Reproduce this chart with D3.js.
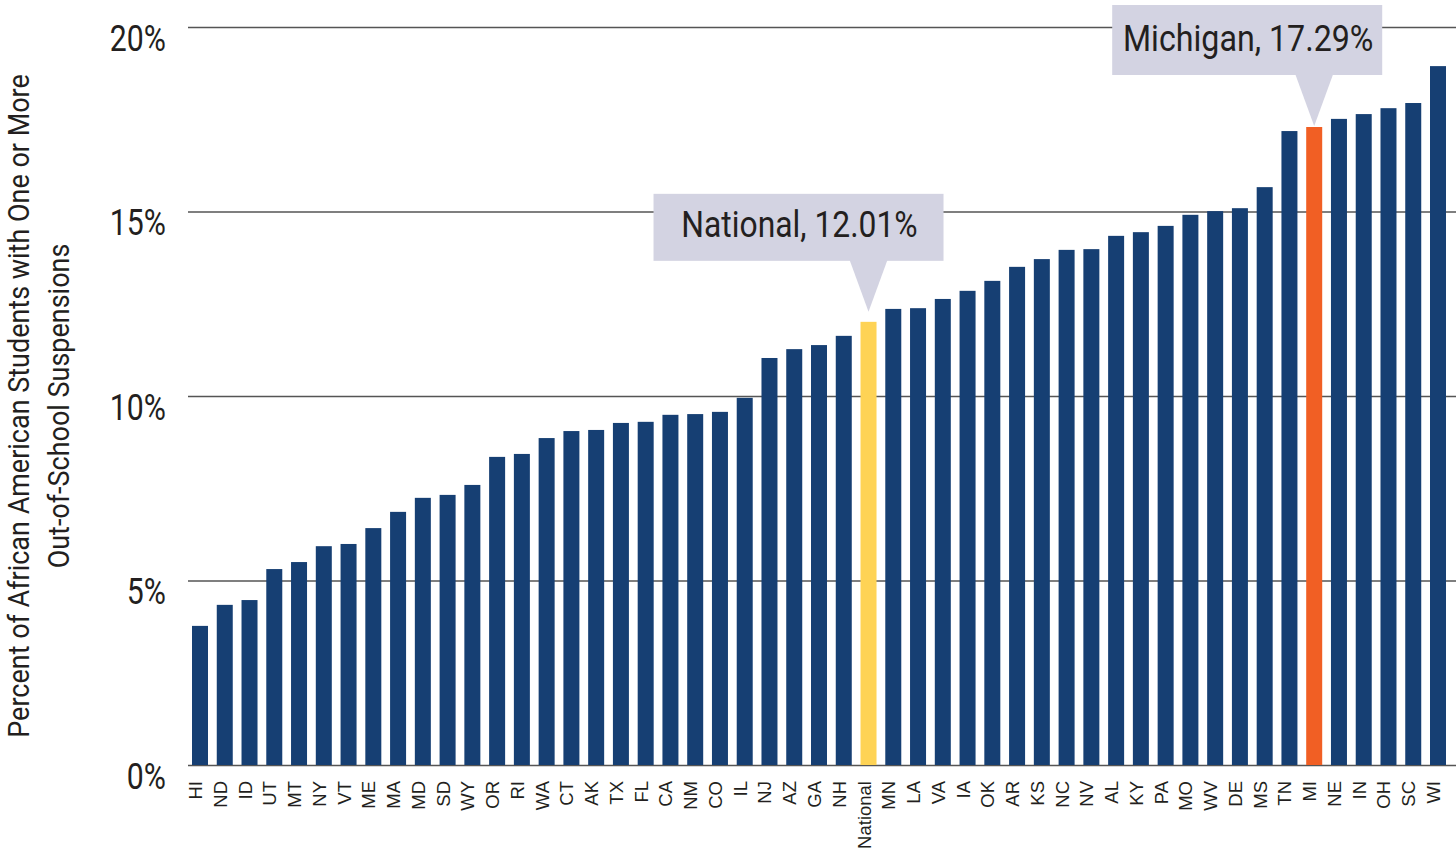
<!DOCTYPE html>
<html>
<head>
<meta charset="utf-8">
<script src="https://cdn.jsdelivr.net/npm/d3@7"></script>
<style>
  body { margin: 0; background: #fff; }
  svg { display: block; }
  .tick-label { font-family: Roboto, "Liberation Sans", sans-serif; fill: #231f20; }
  .cat-label { font-family: "Liberation Sans", Arial, sans-serif; fill: #231f20; }
</style>
</head>
<body>
<svg id="chart" width="1456" height="852"></svg>
<script>

// states sorted by rate, national average in the middle
var states = ['HI','ND','ID','UT','MT','NY','VT','ME','MA','MD','SD','WY','OR','RI','WA','CT','AK','TX','FL','CA','NM','CO','IL','NJ','AZ','GA','NH','National','MN','LA','VA','IA','OK','AR','KS','NC','NV','AL','KY','PA','MO','WV','DE','MS','TN','MI','NE','IN','OH','SC','WI'];
var rates = [3.77,4.34,4.47,5.31,5.50,5.93,5.99,6.42,6.86,7.24,7.32,7.59,8.35,8.43,8.86,9.05,9.08,9.27,9.30,9.49,9.51,9.57,9.95,11.03,11.27,11.38,11.63,12.01,12.36,12.38,12.63,12.85,13.12,13.50,13.71,13.96,13.98,14.34,14.44,14.61,14.91,15.01,15.09,15.66,17.18,17.29,17.51,17.64,17.80,17.94,18.94];
var yTicks = [0, 5, 10, 15, 20];
var callouts = ['National', 'MI'];
var calloutText = ['National, 12.01%', 'Michigan, 17.29%'];

var data = states.map(function(s, i) { return { state: s, rate: rates[i] }; });

var barColor = '#163f73';
var hiColor = { 'National': '#fed355', 'MI': '#f15f24' };

var svg = d3.select('#chart');

// condensed look: squeeze rendered text a bit
function condense(sel, k) {
  sel.each(function() {
    var w = this.getComputedTextLength();
    d3.select(this).attr('textLength', w * k).attr('lengthAdjust', 'spacingAndGlyphs');
  });
}

///////////////////////
// Scales
var x = d3.scaleBand()
    .domain(states)
    .range([192, 1446])
    .paddingInner(0.354)
    .paddingOuter(0);

var y = d3.scaleLinear()
    .domain([0, 20])
    .range([765, 27]);

///////////////////////
// Gridlines + y labels
var yAxis = d3.axisLeft(y)
    .tickValues(yTicks)
    .tickSize(-(1456 - 188))
    .tickFormat(function(d) { return d + '%'; });

var yg = svg.append('g')
    .attr('transform', 'translate(188,0)')
    .call(yAxis);

yg.select('.domain').remove();
yg.selectAll('.tick line')
    .attr('stroke', '#555')
    .attr('stroke-width', 1.3);
yg.selectAll('.tick text')
    .attr('class', 'tick-label')
    .attr('x', -22)
    .attr('dy', 23)
    .style('font-size', '36px')
    .attr('fill', '#231f20');
condense(yg.selectAll('.tick text'), 0.84);

///////////////////////
// Bars
svg.append('g')
  .selectAll('rect')
  .data(data)
  .enter().append('rect')
    .attr('x', function(d) { return x(d.state); })
    .attr('y', function(d) { return y(d.rate); })
    .attr('width', x.bandwidth())
    .attr('height', function(d) { return y(0) - y(d.rate); })
    .attr('fill', function(d) { return hiColor[d.state] || barColor; });

///////////////////////
// x labels (rotated)
svg.append('g')
  .selectAll('text')
  .data(data)
  .enter().append('text')
    .attr('class', 'cat-label')
    .attr('text-anchor', 'end')
    .style('font-size', '18.5px')
    .attr('transform', function(d) {
      return 'translate(' + (x(d.state) + x.bandwidth() / 2 + 2) + ',781) rotate(-90)';
    })
    .text(function(d) { return d.state; });

///////////////////////
// Y title
var title = svg.append('g')
    .attr('class', 'tick-label')
    .style('font-size', '29px');

title.append('text')
    .attr('text-anchor', 'middle')
    .attr('transform', 'translate(29,406) rotate(-90)')
    .text('Percent of African American Students with One or More');

title.append('text')
    .attr('text-anchor', 'middle')
    .attr('transform', 'translate(69,406) rotate(-90)')
    .text('Out-of-School Suspensions');

condense(title.selectAll('text'), 0.93);

///////////////////////
// Callouts
var boxW = [290, 270], boxH = [67, 70], boxShift = [-70, -67], tipGap = [10, 1];
var tailH = 51, tailHalf = 19;

callouts.forEach(function(s, i) {
  var d = data[states.indexOf(s)];
  var cx = x(s) + x.bandwidth() / 2;
  var tipY = y(d.rate) - tipGap[i];
  var bottom = tipY - tailH;
  var bx = cx + boxShift[i];
  var g = svg.append('g');

  g.append('rect')
      .attr('x', bx - boxW[i] / 2)
      .attr('y', bottom - boxH[i])
      .attr('width', boxW[i])
      .attr('height', boxH[i])
      .attr('fill', '#d3d3e2');

  g.append('path')
      .attr('d', 'M' + (cx - tailHalf) + ',' + (bottom - 1) + 'L' + cx + ',' + tipY + 'L' + (cx + tailHalf) + ',' + (bottom - 1) + 'Z')
      .attr('fill', '#d3d3e2');

  var t = g.append('text')
      .attr('class', 'tick-label')
      .attr('text-anchor', 'middle')
      .attr('x', bx + 1)
      .attr('y', bottom - 24)
      .style('font-size', '37px')
      .text(calloutText[i]);
  condense(t, i == 0 ? 0.86 : 0.87);
});

</script>
</body>
</html>
